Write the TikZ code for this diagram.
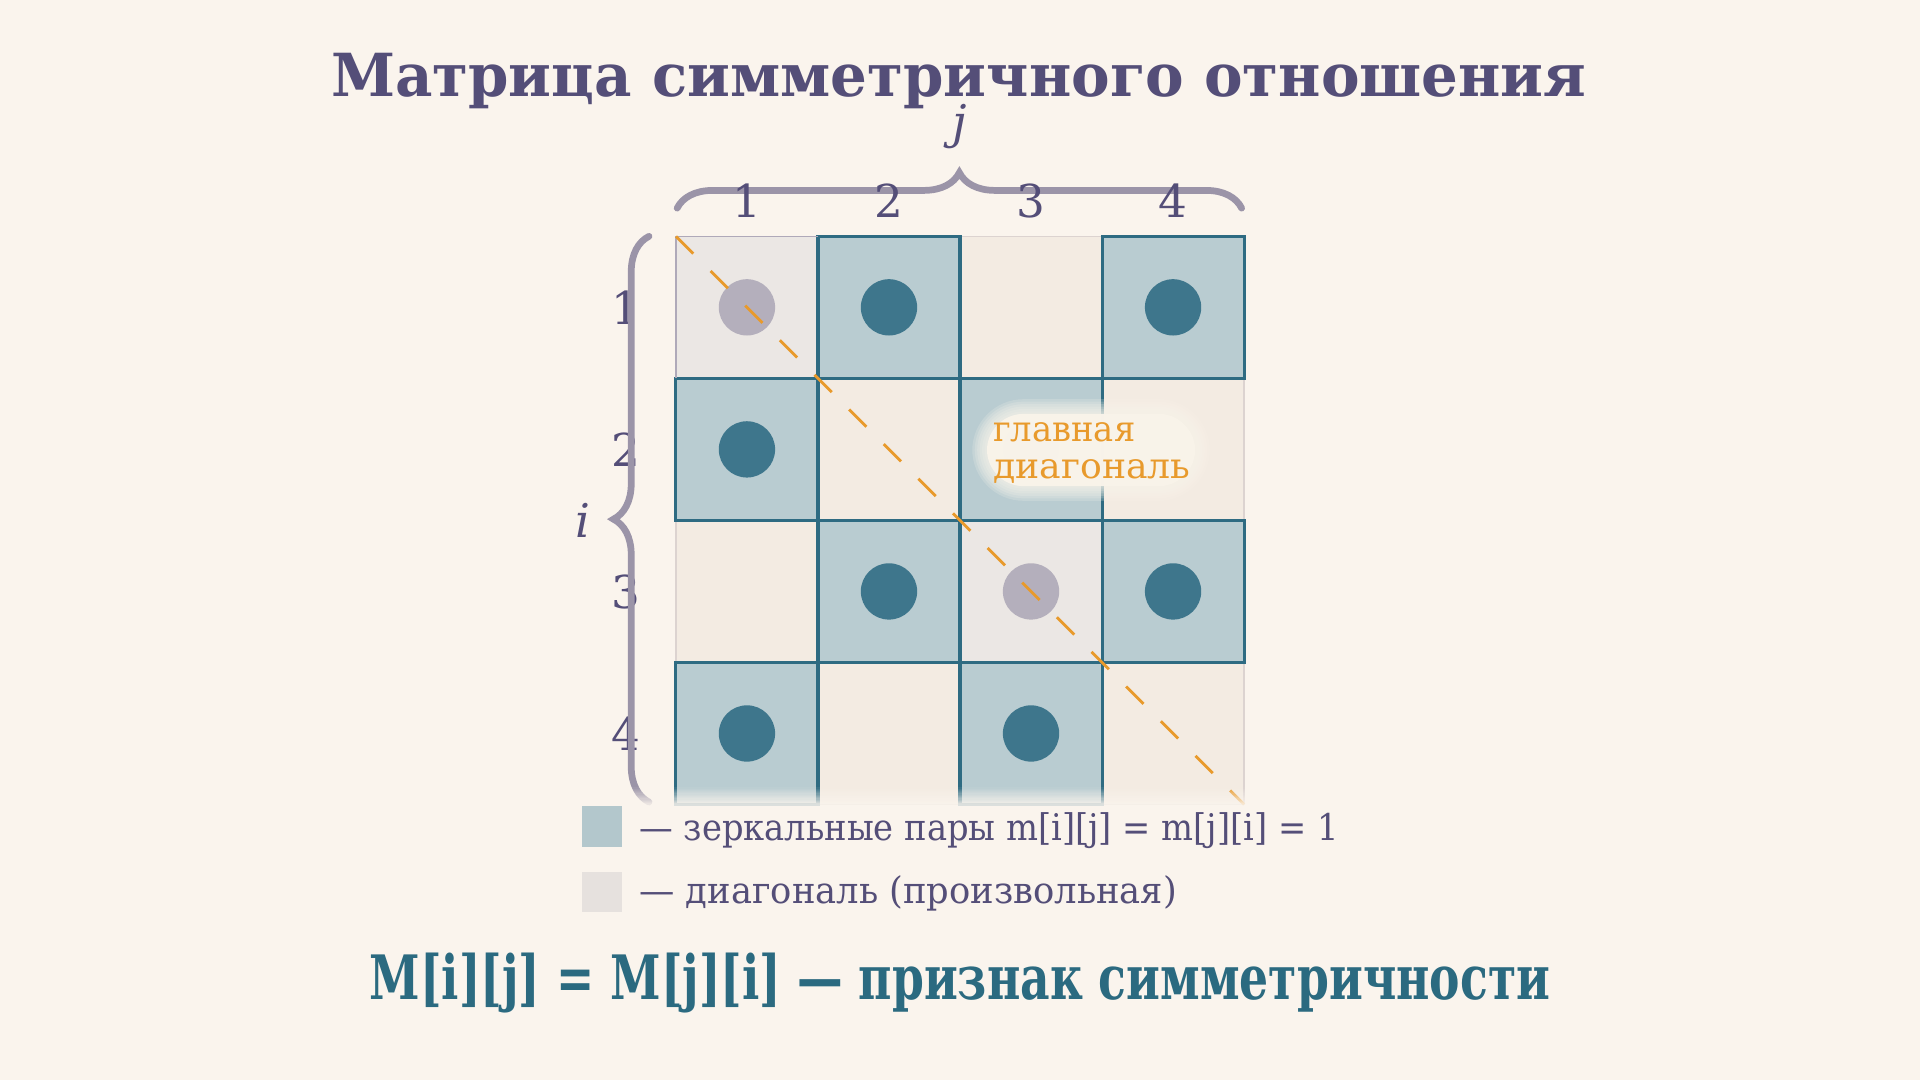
\documentclass[tikz,border=0pt]{standalone}
\usepackage{fontspec}
\setmainfont{DejaVu Serif}
\usepackage{graphicx}
\usetikzlibrary{decorations.pathreplacing}
\definecolor{bgc}{HTML}{FAF4ED}
\definecolor{titlec}{HTML}{544E78}
\definecolor{tealfill}{HTML}{B9CCD1}
\definecolor{tealline}{HTML}{2E6B82}
\definecolor{dotteal}{HTML}{3E768C}
\definecolor{beigefill}{HTML}{F3EBE2}
\definecolor{beigeline}{HTML}{DCD3D0}
\definecolor{diagfill}{HTML}{EBE7E4}
\definecolor{diagline}{HTML}{C9C2CB}
\definecolor{dotgray}{HTML}{B4AFBC}
\definecolor{bracec}{HTML}{9B94A8}
\definecolor{orangec}{HTML}{E89A2C}
\definecolor{formulac}{HTML}{2B6A80}
\definecolor{glowc}{HTML}{F9F4EA}
\definecolor{legteal}{HTML}{B3C7CC}
\definecolor{leggray}{HTML}{E6E1DE}
\tikzset{
  cellbase/.style={rectangle, minimum size=116pt, inner sep=0pt, outer sep=0pt},
  beigecell/.style={cellbase, fill=beigefill, draw=beigeline, line width=1pt},
  diagcell/.style={cellbase, fill=diagfill, draw=diagline, line width=1pt},
  tealcell/.style={cellbase, fill=tealfill, draw=tealline, line width=2.5pt},
  tealdot/.style={circle, fill=dotteal, minimum size=46pt, inner sep=0pt},
  graydot/.style={circle, fill=dotgray, minimum size=46pt, inner sep=0pt},
  diagdash/.style={draw=orangec, line width=2.4pt, dash pattern=on 20pt off 20pt},
  bracestyle/.style={draw=bracec, line width=5.5pt, line cap=round, decorate, decoration={brace, amplitude=29pt}},
  numlabel/.style={text=titlec, inner sep=0pt, anchor=base, font=\fontsize{37}{44}\selectfont},
  idxlabel/.style={text=titlec, inner sep=0pt, anchor=base, font=\fontsize{38}{45}\selectfont\itshape},
  diaglabel/.style={text=orangec, inner sep=0pt, anchor=base west, font=\fontsize{29}{34}\selectfont},
  legtext/.style={text=titlec, inner sep=0pt, anchor=base west, font=\fontsize{30}{36}\selectfont},
  legbox/.style={rectangle, minimum size=33pt, inner sep=0pt},
  titlestyle/.style={text=titlec, inner sep=0pt, anchor=base, font=\fontsize{48.5}{58}\selectfont\bfseries},
  formulastyle/.style={text=formulac, inner sep=0pt, anchor=base, font=\fontsize{50}{60}\selectfont\bfseries},
}
\begin{document}
\begin{tikzpicture}[x=1pt,y=-1pt]
\useasboundingbox (0,0) rectangle (1568,882);
\fill[bgc] (0,0) rectangle (1568,882);

% title
\node[titlestyle] (title) at (783,79) {\resizebox{1025pt}{\height}{Матрица симметричного отношения}};

% cells
\foreach \r/\c/\s in {1/1/diagcell,3/3/diagcell,1/3/beigecell,2/2/beigecell,2/4/beigecell,3/1/beigecell,4/2/beigecell,4/4/beigecell,
  1/2/tealcell,1/4/tealcell,2/1/tealcell,2/3/tealcell,3/2/tealcell,3/4/tealcell,4/1/tealcell,4/3/tealcell}
  \node[\s] (c\r\c) at ({610+(\c-1)*116},{251+(\r-1)*116}) {};
\draw[bracec!80, line width=1pt] (c11.south west) -- (c11.north west) -- (c11.north east);

% dots
\foreach \r/\c in {1/2,1/4,2/1,2/3,3/2,3/4,4/1,4/3}
  \node[tealdot] (d\r\c) at (c\r\c) {};
\foreach \r/\c in {1/1,3/3}
  \node[graydot] (d\r\c) at (c\r\c) {};

% main diagonal
\draw[diagdash] (c11.north west) -- (c44.south east);

% glow behind label
\foreach \e in {12,10,8,6,4,2}
  \fill[glowc, opacity=0.2, rounded corners={(30+\e)*1pt}] ({806-\e},{338-\e}) rectangle ({976+\e},{397+\e});
\fill[glowc, opacity=0.97, rounded corners=30pt] (806,338) rectangle (976,397);
\node[diaglabel] (lab1) at (811,360.7) {\resizebox{116pt}{\height}{главная}};
\node[diaglabel] (lab2) at (811,390.5) {\resizebox{161pt}{\height}{диагональ}};

% column numbers and top brace
\coordinate (tbA) at (553,170);
\coordinate (tbB) at (1014,170);
\draw[bracestyle] (tbA) -- (tbB);
\foreach \c in {1,2,3,4}
  \node[numlabel] (col\c) at ({610+(\c-1)*116},178) {\c};
\node[idxlabel] (jlab) at (784,113) {j};

% row numbers and left brace
\foreach \r in {1,2,3,4}
  \node[numlabel] (row\r) at (511,{265+(\r-1)*116}) {\r};
\coordinate (lbA) at (530,655);
\coordinate (lbB) at (530,193);
\draw[bracestyle] (lbA) -- (lbB);
\node[idxlabel] (ilab) at (476,439) {i};

% fade of grid bottom
\foreach \k in {0,...,14}
  \fill[bgc, opacity={0.06*\k}] (462,{642+\k}) rectangle (1105,{643+\k});
\fill[bgc, opacity=0.85] (462,657) rectangle (1105,662);

% legend
\node[legbox, fill=legteal] (leg1) at (491.5,675) {};
\node[legbox, fill=leggray] (leg2) at (491.5,728.5) {};
\node[legtext] (legt1) at (522,686) {\resizebox{571pt}{\height}{— зеркальные пары m[i][j] = m[j][i] = 1}};
\node[legtext] (legt2) at (522,737.7) {\resizebox{439pt}{\height}{— диагональ (произвольная)}};

% formula
\node[formulastyle] (formula) at (784,816.6) {\resizebox{964pt}{\height}{M[i][j] = M[j][i] — признак симметричности}};
\end{tikzpicture}
\end{document}
